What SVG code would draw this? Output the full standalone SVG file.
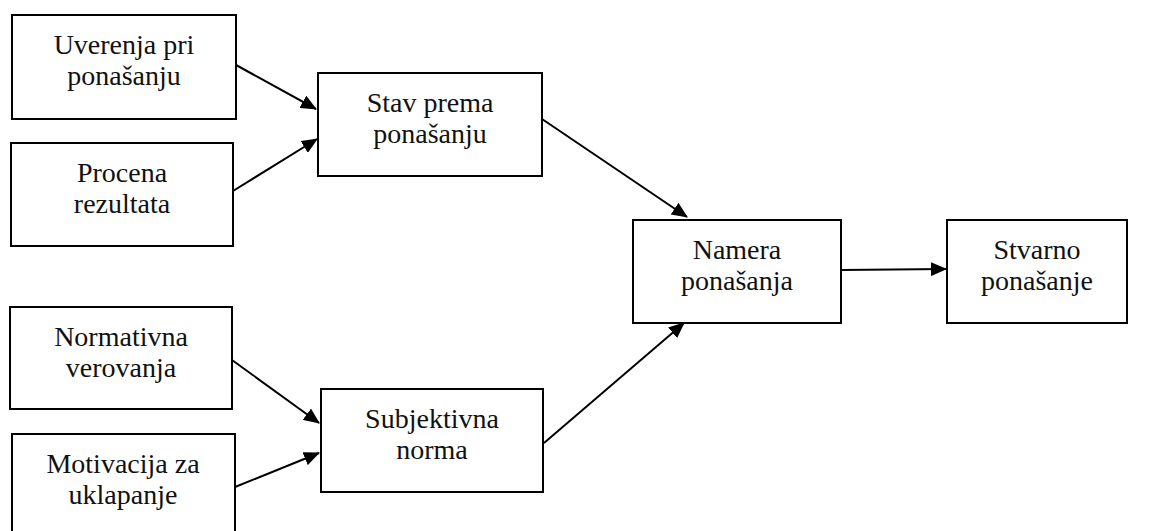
<svg xmlns="http://www.w3.org/2000/svg" width="1160" height="531" viewBox="0 0 1160 531">
<style>
.box rect{fill:#fff;stroke:#000;stroke-width:2}
.box text{font-family:"Liberation Serif","Times New Roman",serif;font-size:28px;fill:#111;text-anchor:middle}
#connectors line{stroke:#000;stroke-width:2;marker-end:url(#ah)}
</style>
<defs>
<marker id="ah" markerWidth="16" markerHeight="14" refX="15" refY="7" orient="auto" markerUnits="userSpaceOnUse">
<path d="M0,0 L16,7 L0,14 Z" fill="#000"/>
</marker>
</defs>
<rect width="1160" height="531" fill="#fff"/>
<g id="connectors">
<line x1="236" y1="65" x2="316" y2="109"/>
<line x1="233" y1="191" x2="317" y2="139"/>
<line x1="542" y1="119" x2="687" y2="217"/>
<line x1="841" y1="270" x2="946" y2="269"/>
<line x1="232" y1="360" x2="319" y2="423"/>
<line x1="235" y1="487" x2="319" y2="453"/>
<line x1="544" y1="443" x2="684" y2="323"/>
</g>
<g id="n1" class="box"><rect x="12" y="15" width="224" height="104"/><text x="124" y="54">Uverenja pri</text><text x="124" y="85">ponašanju</text></g>
<g id="n2" class="box"><rect x="11" y="143" width="222" height="103"/><text x="122" y="182">Procena</text><text x="122" y="213">rezultata</text></g>
<g id="n3" class="box"><rect x="318" y="73" width="224" height="103"/><text x="430" y="112">Stav prema</text><text x="430" y="143">ponašanju</text></g>
<g id="n4" class="box"><rect x="633" y="220" width="208" height="103"/><text x="737" y="259">Namera</text><text x="737" y="290">ponašanja</text></g>
<g id="n5" class="box"><rect x="947" y="220" width="180" height="103"/><text x="1037" y="259">Stvarno</text><text x="1037" y="290">ponašanje</text></g>
<g id="n6" class="box"><rect x="10" y="307" width="222" height="102"/><text x="121" y="346">Normativna</text><text x="121" y="377">verovanja</text></g>
<g id="n7" class="box"><rect x="321" y="389" width="222" height="103"/><text x="432" y="428">Subjektivna</text><text x="432" y="459">norma</text></g>
<g id="n8" class="box"><rect x="12" y="434" width="223" height="104"/><text x="123" y="473">Motivacija za</text><text x="123" y="504">uklapanje</text></g>
</svg>
